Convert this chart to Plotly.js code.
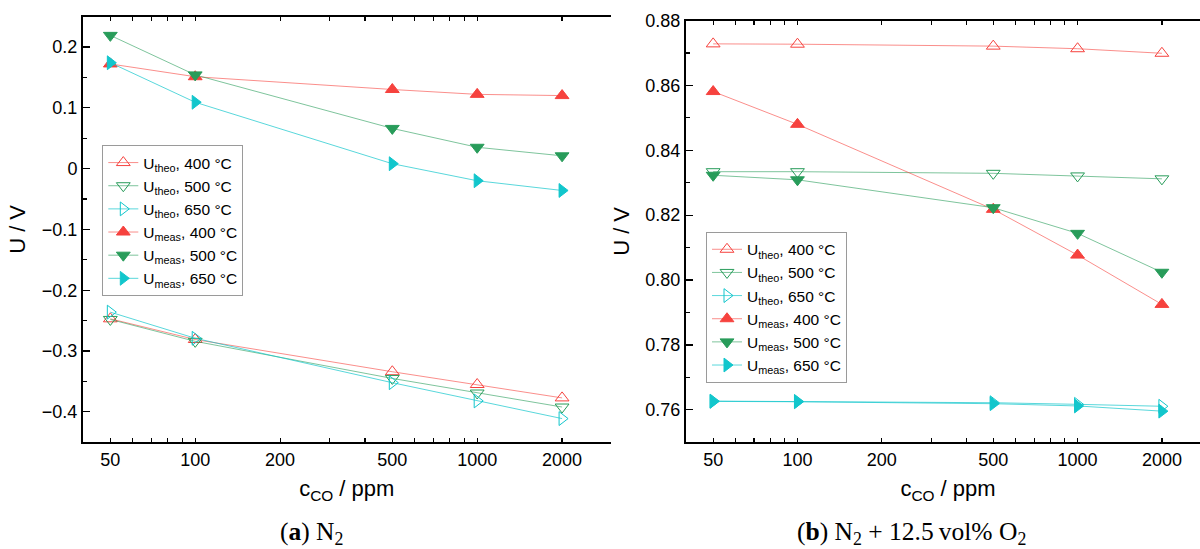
<!DOCTYPE html>
<html><head><meta charset="utf-8">
<script src="https://cdn.plot.ly/plotly-3.0.1.min.js"></script>
<style>html,body{margin:0;padding:0;overflow:hidden;background:#fff}#plot{width:1210px;height:549px}</style>
</head><body><div id="plot"></div><script>
// ---- data ----
const concentrations = [50, 100, 500, 1000, 2000];
const xTickVals = [50, 100, 200, 500, 1000, 2000];
const xTickText = ['50', '100', '200', '500', '1000', '2000'];
const xMinorVals = [60, 70, 80, 90, 300, 400, 600, 700, 800, 900];
const xDecadeVals = [100, 1000];

const seriesNames = [
  'U<sub>theo</sub>, 400 °C', 'U<sub>theo</sub>, 500 °C', 'U<sub>theo</sub>, 650 °C',
  'U<sub>meas</sub>, 400 °C', 'U<sub>meas</sub>, 500 °C', 'U<sub>meas</sub>, 650 °C'
];

// (a) N2
const n2Theo400 = [-0.247, -0.281, -0.334, -0.355, -0.377];
const n2Theo500 = [-0.248, -0.284, -0.345, -0.369, -0.392];
const n2Theo650 = [-0.236, -0.279, -0.352, -0.382, -0.411];
const n2Meas400 = [0.172, 0.151, 0.130, 0.122, 0.120];
const n2Meas500 = [0.219, 0.154, 0.066, 0.035, 0.021];
const n2Meas650 = [0.174, 0.109, 0.008, -0.020, -0.036];

// (b) N2 + 12.5 vol% O2
const o2Theo400 = [0.8728, 0.8727, 0.8721, 0.8713, 0.8699];
const o2Theo500 = [0.8334, 0.8334, 0.8329, 0.8321, 0.8312];
const o2Theo650 = [0.7627, 0.7626, 0.7622, 0.7617, 0.7611];
const o2Meas400 = [0.8581, 0.8480, 0.8218, 0.8077, 0.7925];
const o2Meas500 = [0.8323, 0.8309, 0.8223, 0.8144, 0.8024];
const o2Meas650 = [0.7626, 0.7625, 0.7619, 0.7612, 0.7596];

// ---- styling ----
const RED = 'rgb(246,66,62)', GREEN = 'rgb(40,156,90)', CYAN = 'rgb(18,198,204)';
const RED_L = 'rgba(246,66,62,0.6)', GREEN_L = 'rgba(40,156,90,0.6)', CYAN_L = 'rgba(18,198,204,0.7)';
const styles = [
  {c: RED, l: RED_L, s: 'triangle-up-open'},
  {c: GREEN, l: GREEN_L, s: 'triangle-down-open'},
  {c: CYAN, l: CYAN_L, s: 'triangle-right-open'},
  {c: RED, l: RED_L, s: 'triangle-up'},
  {c: GREEN, l: GREEN_L, s: 'triangle-down'},
  {c: CYAN, l: CYAN_L, s: 'triangle-right'}
];

function mk(ys, i, xa, ya, leg) {
  const st = styles[i];
  return {
    x: concentrations, y: ys, type: 'scatter', mode: 'lines+markers',
    name: seriesNames[i], xaxis: xa, yaxis: ya, legend: leg,
    line: {color: st.l, width: 1},
    marker: {symbol: st.s, size: 12, color: st.c, line: {color: st.c, width: 1}}
  };
}

const traces = [
  mk(n2Theo400, 0, 'x', 'y', 'legend'), mk(n2Theo500, 1, 'x', 'y', 'legend'), mk(n2Theo650, 2, 'x', 'y', 'legend'),
  mk(n2Meas400, 3, 'x', 'y', 'legend'), mk(n2Meas500, 4, 'x', 'y', 'legend'), mk(n2Meas650, 5, 'x', 'y', 'legend'),
  mk(o2Theo400, 0, 'x2', 'y2', 'legend2'), mk(o2Theo500, 1, 'x2', 'y2', 'legend2'), mk(o2Theo650, 2, 'x2', 'y2', 'legend2'),
  mk(o2Meas400, 3, 'x2', 'y2', 'legend2'), mk(o2Meas500, 4, 'x2', 'y2', 'legend2'), mk(o2Meas650, 5, 'x2', 'y2', 'legend2')
];

const W = 1210, H = 549;
const fx = p => p / W, fy = p => (H - p) / H;
const FONT = 'Liberation Sans, Arial, sans-serif';
const XR = [Math.log10(40), Math.log10(2970)];

function xAxis(dom, anchor) {
  return {
    domain: dom, anchor: anchor, type: 'log', range: XR,
    tickmode: 'array', tickvals: xTickVals, ticktext: xTickText,
    ticks: 'inside', ticklen: 4, tickwidth: 1.2, tickcolor: '#000',
    minor: {tickmode: 'array', tickvals: xMinorVals, ticks: 'inside', ticklen: 4, tickwidth: 1.2, tickcolor: '#000', showgrid: false},
    showline: true, linewidth: 2, linecolor: '#000', mirror: 'ticks',
    showgrid: false, zeroline: false,
    tickfont: {family: FONT, size: 18, color: '#000'},
    title: {text: 'c<sub>CO</sub> / ppm', font: {family: FONT, size: 22, color: '#000'}, standoff: 12},
    automargin: false
  };
}
function xDecade(over, anchor) {
  return {
    overlaying: over, anchor: anchor, type: 'log', range: XR,
    tickmode: 'array', tickvals: xDecadeVals, ticks: 'inside', ticklen: 8, tickwidth: 1.2, tickcolor: '#000',
    showticklabels: false, showline: false, mirror: 'ticks', showgrid: false, zeroline: false
  };
}
function yAxis(dom, anchor, range, dtick, minorDtick, fmt) {
  return {
    domain: dom, anchor: anchor, range: range, dtick: dtick, tick0: 0,
    ticks: 'inside', ticklen: 7, tickwidth: 1.2, tickcolor: '#000',
    minor: {dtick: minorDtick, tick0: 0, ticks: 'inside', ticklen: 4, tickwidth: 1.2, tickcolor: '#000', showgrid: false},
    showline: true, linewidth: 2, linecolor: '#000', mirror: false,
    showgrid: false, zeroline: false, tickformat: fmt,
    tickfont: {family: FONT, size: 18, color: '#000'},
    title: {text: 'U / V', font: {family: FONT, size: 22, color: '#000'}, standoff: 10},
    automargin: false
  };
}

const yDom1 = [fy(442.3), fy(16.5)];
const yDom2 = [fy(442.3), fy(20.5)];

const layout = {
  width: W, height: H, margin: {l: 0, r: 0, t: 0, b: 0},
  paper_bgcolor: '#fff', plot_bgcolor: '#fff', showlegend: true,
  font: {family: FONT, color: '#000'},
  xaxis: xAxis([fx(83), fx(610.5)], 'y'),
  yaxis: yAxis(yDom1, 'x', [-0.45, 0.25], 0.1, 0.05, ''),
  xaxis2: xAxis([fx(686), 1], 'y2'),
  yaxis2: yAxis(yDom2, 'x2', [0.75, 0.88], 0.02, 0.01, '.2f'),
  xaxis3: xDecade('x', 'y'),
  xaxis4: xDecade('x2', 'y2'),
  yaxis3: {
    overlaying: 'y', anchor: 'x', side: 'right', range: [-0.45, 0.25], dtick: 0.1, tick0: 0,
    ticks: 'inside', ticklen: 7, tickwidth: 1.2, tickcolor: '#000',
    minor: {dtick: 0.05, tick0: 0, ticks: 'inside', ticklen: 4, tickwidth: 1.2, tickcolor: '#000', showgrid: false},
    showline: true, linewidth: 1, linecolor: '#777', showticklabels: false, showgrid: false, zeroline: false
  },
  legend: {x: fx(102.3), y: fy(145), xanchor: 'left', yanchor: 'top', bgcolor: '#fff',
    bordercolor: '#9a9a9a', borderwidth: 1, font: {family: FONT, size: 15.5, color: '#000'}, tracegroupgap: 0},
  legend2: {x: fx(706), y: fy(231.7), xanchor: 'left', yanchor: 'top', bgcolor: '#fff',
    bordercolor: '#9a9a9a', borderwidth: 1, font: {family: FONT, size: 15.5, color: '#000'}, tracegroupgap: 0},
  annotations: [
    {text: '(<b>a</b>) N<sub>2</sub>', xref: 'paper', yref: 'paper', x: fx(311), y: fy(533),
      xanchor: 'center', yanchor: 'middle', showarrow: false,
      font: {family: 'Liberation Serif, DejaVu Serif, serif', size: 25.5, color: '#000'}},
    {text: '(<b>b</b>) N<sub>2</sub> + 12.5\u2009vol% O<sub>2</sub>', xref: 'paper', yref: 'paper', x: fx(911), y: fy(533),
      xanchor: 'center', yanchor: 'middle', showarrow: false,
      font: {family: 'Liberation Serif, DejaVu Serif, serif', size: 25.5, color: '#000'}}
  ]
};

Plotly.newPlot('plot', traces, layout, {displayModeBar: false, staticPlot: true});
</script></body></html>
